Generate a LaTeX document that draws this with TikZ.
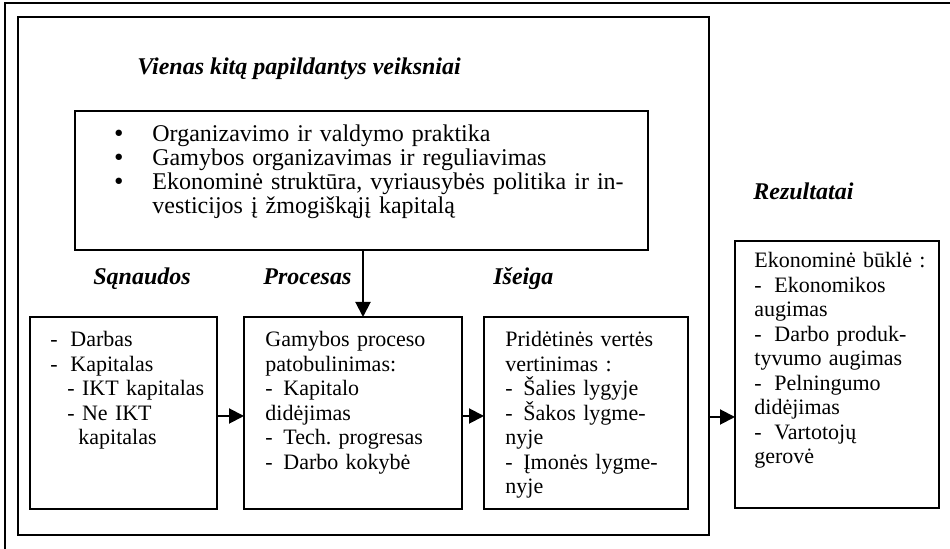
\documentclass[tikz,border=0pt]{standalone}
\usepackage{fontspec}
\setmainfont{Liberation Serif}
\newfontfamily\bulfont{DejaVu Sans}
\usetikzlibrary{arrows.meta}
\frenchspacing
\begin{document}
\begin{tikzpicture}[x=0.5pt,y=-0.5pt,
  box/.style={draw, line width=0.9pt, rectangle, inner sep=0pt, outer sep=0pt, anchor=north west},
  arr/.style={line width=1pt, -{Triangle[length=7.5pt,width=7.5pt]}},
  lbl/.style={anchor=base west, inner sep=0pt, font=\fontsize{12}{13.8}\selectfont\bfseries\itshape},
  txt/.style={anchor=base west, inner sep=0pt, align=left, text width=100pt, font=\fontsize{11}{12.25}\selectfont},
  toptxt/.style={anchor=base west, inner sep=0pt, align=left, text width=280pt, font=\fontsize{12}{10.75}\selectfont},
]
\newcommand{\bigbul}{\makebox[20pt][l]{{\bulfont\fontsize{11}{10}\selectfont •}}}
\useasboundingbox (0,0) rectangle (950,549);
% outer frame (only left and top edges visible)
\draw[line width=1pt] (5,549) -- (5,3) -- (950,3);

% boxes
\node[box, minimum width=345.5pt, minimum height=259pt] (frame) at (18,17) {};
\node[box, minimum width=286.5pt, minimum height=69.5pt] (factors) at (75,111) {};
\node[box, minimum width=93.5pt, minimum height=96pt] (inputs) at (30,317) {};
\node[box, minimum width=109pt, minimum height=96pt] (process) at (244,317) {};
\node[box, minimum width=102pt, minimum height=96pt] (output) at (484,317) {};
\node[box, minimum width=102pt, minimum height=133.5pt] (results) at (735,241) {};

% headings
\node[lbl] (title) at (137,75) {Vienas kitą papildantys veiksniai};
\node[lbl] (lin) at (93,285) {Sąnaudos};
\node[lbl] (lproc) at (263,285) {Procesas};
\node[lbl] (lout) at (493,285) {Išeiga};
\node[lbl] (lres) at (753,200) {Rezultatai};

% texts
\node[toptxt] (factxt) at (112,142) {%
\bigbul Organizavimo ir valdymo praktika\\
\bigbul Gamybos organizavimas ir reguliavimas\\
\bigbul Ekonominė struktūra, vyriausybės politika ir in-\\
\hspace*{20pt}vesticijos į žmogiškąjį kapitalą};

\node[txt] (intxt) at (50,347) {%
\makebox[10pt][l]{-}Darbas\\
\makebox[10pt][l]{-}Kapitalas\\
\hspace*{8.5pt}- IKT kapitalas\\
\hspace*{8.5pt}- Ne IKT\\
\hspace*{14pt}kapitalas};

\node[txt] (proctxt) at (265,347) {%
Gamybos proceso\\
patobulinimas:\\
\makebox[9pt][l]{-}Kapitalo\\
didėjimas\\
\makebox[9pt][l]{-}Tech. progresas\\
\makebox[9pt][l]{-}Darbo kokybė};

\node[txt] (outtxt) at (505,347) {%
Pridėtinės vertės\\
vertinimas :\\
\makebox[9pt][l]{-}Šalies lygyje\\
\makebox[9pt][l]{-}Šakos lygme-\\
nyje\\
\makebox[9pt][l]{-}Įmonės lygme-\\
nyje};

\node[txt] (restxt) at (754,268) {%
Ekonominė būklė :\\
\makebox[10pt][l]{-}Ekonomikos\\
augimas\\
\makebox[10pt][l]{-}Darbo produk-\\
tyvumo augimas\\
\makebox[10pt][l]{-}Pelningumo\\
didėjimas\\
\makebox[10pt][l]{-}Vartotojų\\
gerovė};

% connectors
\coordinate (ax) at (363,0);
\draw[arr] (ax |- factors.south) -- (ax |- process.north);
\coordinate (ay) at (0,416);
\draw[arr] (ay -| inputs.east) -- (ay -| process.west);
\draw[arr] (ay -| process.east) -- (ay -| output.west);
\coordinate (ay2) at (0,417);
\draw[arr] (ay2 -| frame.east) -- (ay2 -| results.west);
\end{tikzpicture}
\end{document}
